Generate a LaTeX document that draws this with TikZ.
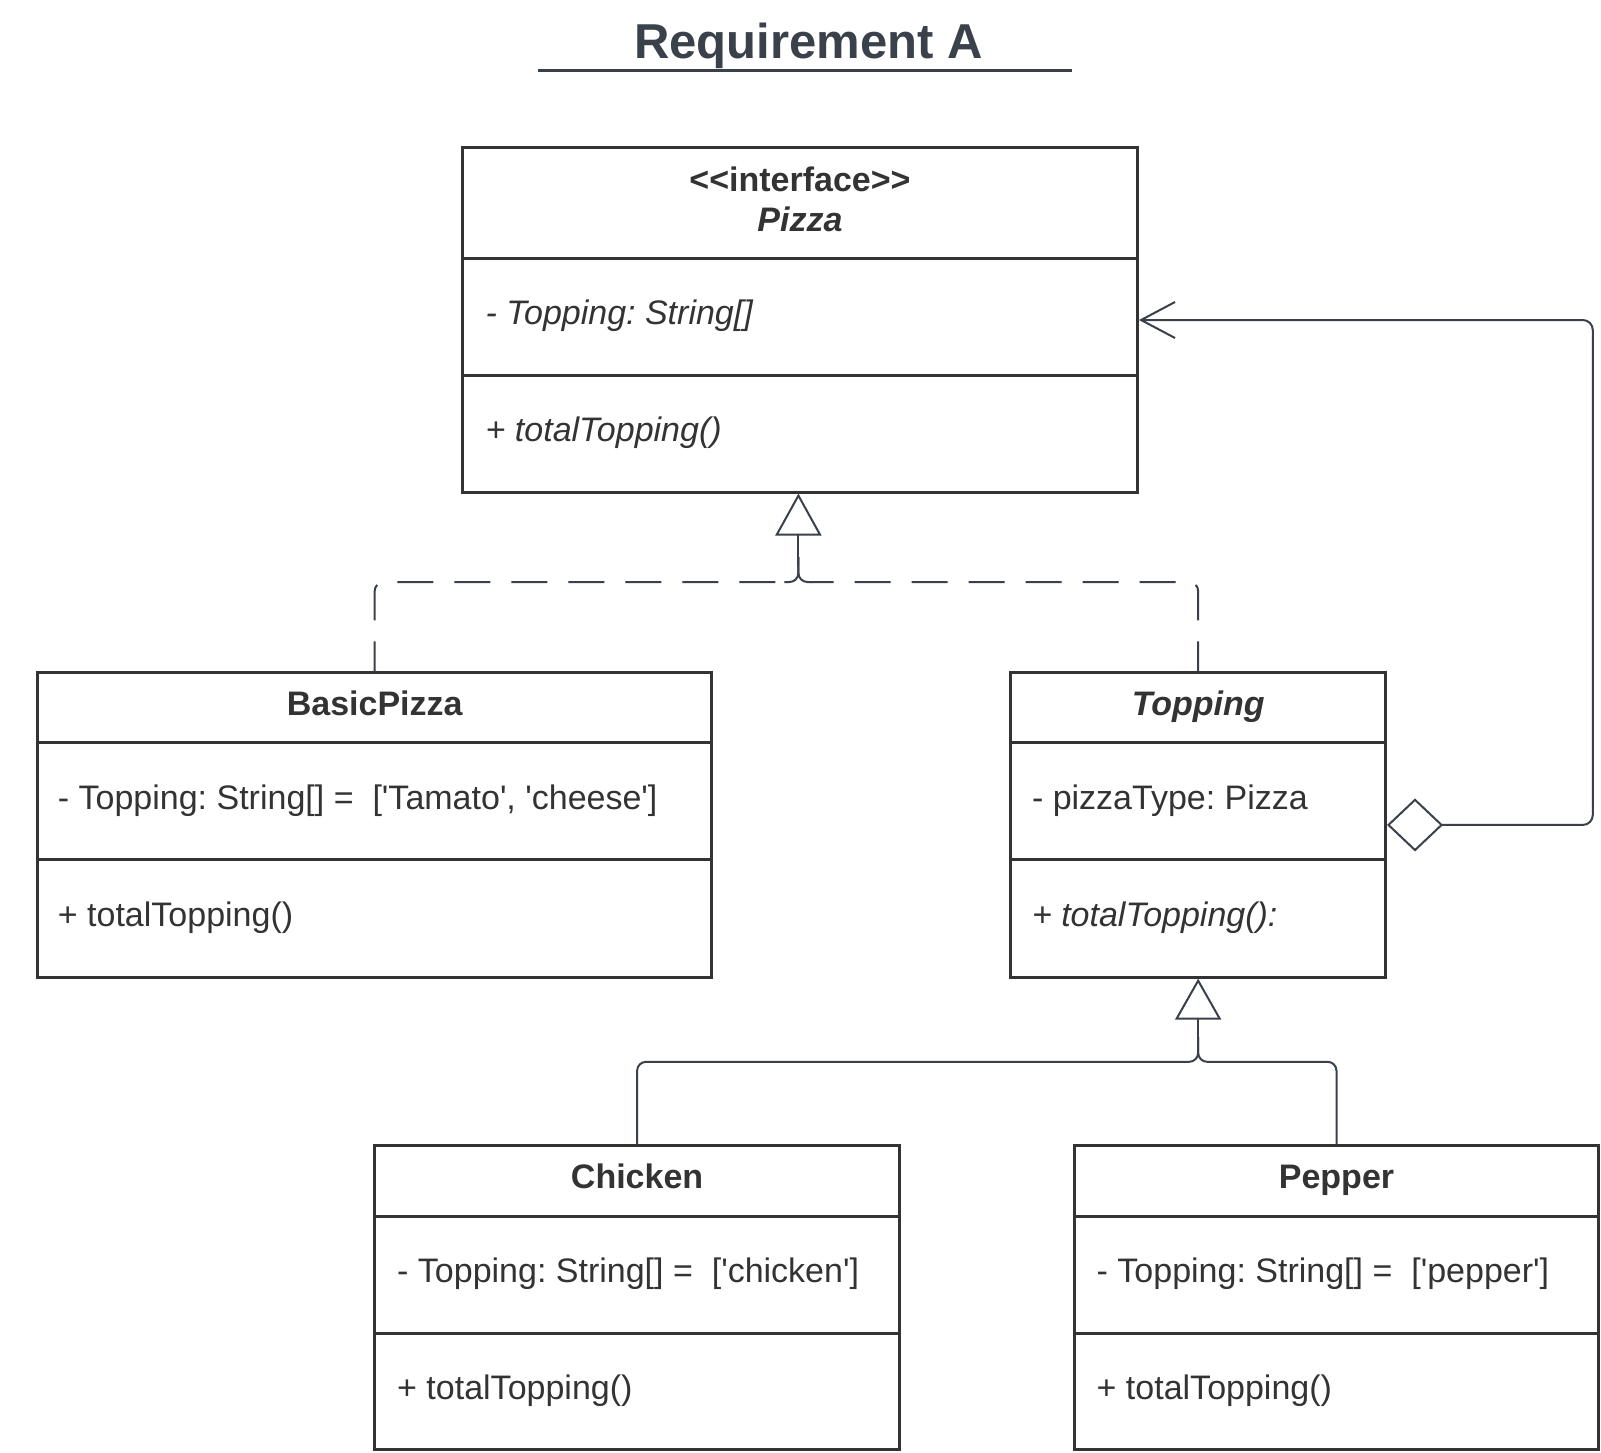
\documentclass[tikz,border=0pt]{standalone}
\usepackage{fontspec}
\newfontfamily\umlfont{Liberation Sans}
\usetikzlibrary{arrows.meta,calc}
\definecolor{boxcol}{HTML}{333333}
\definecolor{conncol}{HTML}{3A414A}
\definecolor{titlecol}{HTML}{3A414A}
\newcommand\sq{\char"0027\relax}
\frenchspacing
\tikzset{
  classbox/.style={draw=boxcol, line width=3pt, fill=white, inner sep=0pt, anchor=center},
  divider/.style={draw=boxcol, line width=3pt},
  txt/.style={text=boxcol, inner sep=0pt, font=\umlfont\fontsize{34pt}{40pt}\selectfont},
  member/.style={txt, anchor=base west},
  imember/.style={member, font=\umlfont\fontsize{34pt}{40pt}\selectfont\itshape},
  header/.style={txt, anchor=base, font=\umlfont\fontsize{34pt}{40pt}\selectfont\bfseries},
  iheader/.style={txt, anchor=base, font=\umlfont\fontsize{34pt}{40pt}\selectfont\bfseries\itshape},
  titletext/.style={text=titlecol, inner sep=0pt, anchor=base, font=\umlfont\fontsize{49pt}{60pt}\selectfont\bfseries},
  conn/.style={draw=conncol, line width=2pt},
  dashconn/.style={conn, dash pattern=on 36pt off 21pt, dash phase=6pt},
}
\begin{document}
\begin{tikzpicture}[x=1pt, y=1pt]
\useasboundingbox (0,0) rectangle (1601,-1453);
\fill[white] (0,0) rectangle (1601,-1453);

% title
\node[titletext] (title) at (808.5,-58.2) {Requirement A};
\coordinate (ulL) at (538,-70.4);
\coordinate (ulR) at (1072,-70.4);
\draw[draw=titlecol, line width=3pt] (ulL) -- (ulR);

% Pizza interface
\node[classbox, minimum width=674.9pt, minimum height=344pt] (pizza) at (799.95,-320) {};
\draw[divider] (pizza.west |- 0,-258.3) -- (pizza.east |- 0,-258.3);
\draw[divider] (pizza.west |- 0,-375.7) -- (pizza.east |- 0,-375.7);
\node[header] (pizzaS) at (800,-191) {<<interface>>};
\node[iheader] (pizzaN) at (800,-231) {Pizza};
\node[imember] (pizzaA) at (485.5,-324.7) {- Topping: String[]};
\node[imember] (pizzaM) at (485.5,-441.5) {+ totalTopping()};

% BasicPizza
\node[classbox, minimum width=673.8pt, minimum height=304.3pt] (basic) at (374.7,-824.95) {};
\draw[divider] (basic.west |- 0,-742.3) -- (basic.east |- 0,-742.3);
\draw[divider] (basic.west |- 0,-859.7) -- (basic.east |- 0,-859.7);
\node[header] (basicN) at (374.7,-715.7) {BasicPizza};
\node[member] (basicA) at (57.7,-809) {- Topping: String[] =~ [\sq Tamato\sq, \sq cheese\sq]};
\node[member] (basicM) at (57.7,-926.4) {+ totalTopping()};

% Topping
\node[classbox, minimum width=374.7pt, minimum height=304.3pt] (topping) at (1198.15,-824.95) {};
\draw[divider] (topping.west |- 0,-742.3) -- (topping.east |- 0,-742.3);
\draw[divider] (topping.west |- 0,-859.7) -- (topping.east |- 0,-859.7);
\node[iheader] (toppingN) at (1198.15,-715.7) {Topping};
\node[member] (toppingA) at (1031.8,-809) {- pizzaType: Pizza};
\node[imember] (toppingM) at (1031.8,-926.4) {+ totalTopping():};

% Chicken
\node[classbox, minimum width=524.8pt, minimum height=304.2pt] (chicken) at (637.1,-1297.7) {};
\draw[divider] (chicken.west |- 0,-1216) -- (chicken.east |- 0,-1216);
\draw[divider] (chicken.west |- 0,-1333.4) -- (chicken.east |- 0,-1333.4);
\node[header] (chickenN) at (637.1,-1188.8) {Chicken};
\node[member] (chickenA) at (397,-1282.7) {- Topping: String[] =~ [\sq chicken\sq]};
\node[member] (chickenM) at (397,-1399.6) {+ totalTopping()};

% Pepper
\node[classbox, minimum width=524.8pt, minimum height=304.2pt] (pepper) at (1336.5,-1297.7) {};
\draw[divider] (pepper.west |- 0,-1216) -- (pepper.east |- 0,-1216);
\draw[divider] (pepper.west |- 0,-1333.4) -- (pepper.east |- 0,-1333.4);
\node[header] (pepperN) at (1336.5,-1188.8) {Pepper};
\node[member] (pepperA) at (1096.5,-1282.7) {- Topping: String[] =~ [\sq pepper\sq]};
\node[member] (pepperM) at (1096.5,-1399.6) {+ totalTopping()};

% realization (dashed) to Pizza
\coordinate (realJ) at (798.4,-582);
\draw[dashconn, rounded corners=9pt] (basic.north) |- ($(realJ)+(-12,0)$);
\draw[dashconn, rounded corners=9pt] (topping.north) |- ($(realJ)+(12,0)$);
\draw[conn, rounded corners=9pt] ($(realJ)+(-14,0)$) -- (realJ) -- ($(realJ)+(0,25)$);
\draw[conn, rounded corners=9pt] ($(realJ)+(14,0)$) -- (realJ) -- ($(realJ)+(0,25)$);
\draw[conn, -{Triangle[open, length=42pt, width=46pt]}] ($(realJ)+(0,15)$) -- (realJ |- pizza.south);

% generalization to Topping
\path (topping.south) ++(0,-83.2) coordinate (genJ);
\draw[conn, rounded corners=9pt] (chicken.north) |- (genJ) -- ($(genJ)+(0,25)$);
\draw[conn, rounded corners=9pt] (pepper.north) |- (genJ) -- ($(genJ)+(0,25)$);
\draw[conn, -{Triangle[open, length=41pt, width=46pt]}] ($(genJ)+(0,15)$) -- (topping.south);

% aggregation Topping -> Pizza
\coordinate (assocC) at (topping.east -| 1592.8,0);
\draw[conn, rounded corners=10pt, {Diamond[open, length=56pt, width=53pt]}-{Straight Barb[length=34pt, width=36pt]}] (topping.east) -- (assocC) |- (pizza.east);
\end{tikzpicture}
\end{document}
